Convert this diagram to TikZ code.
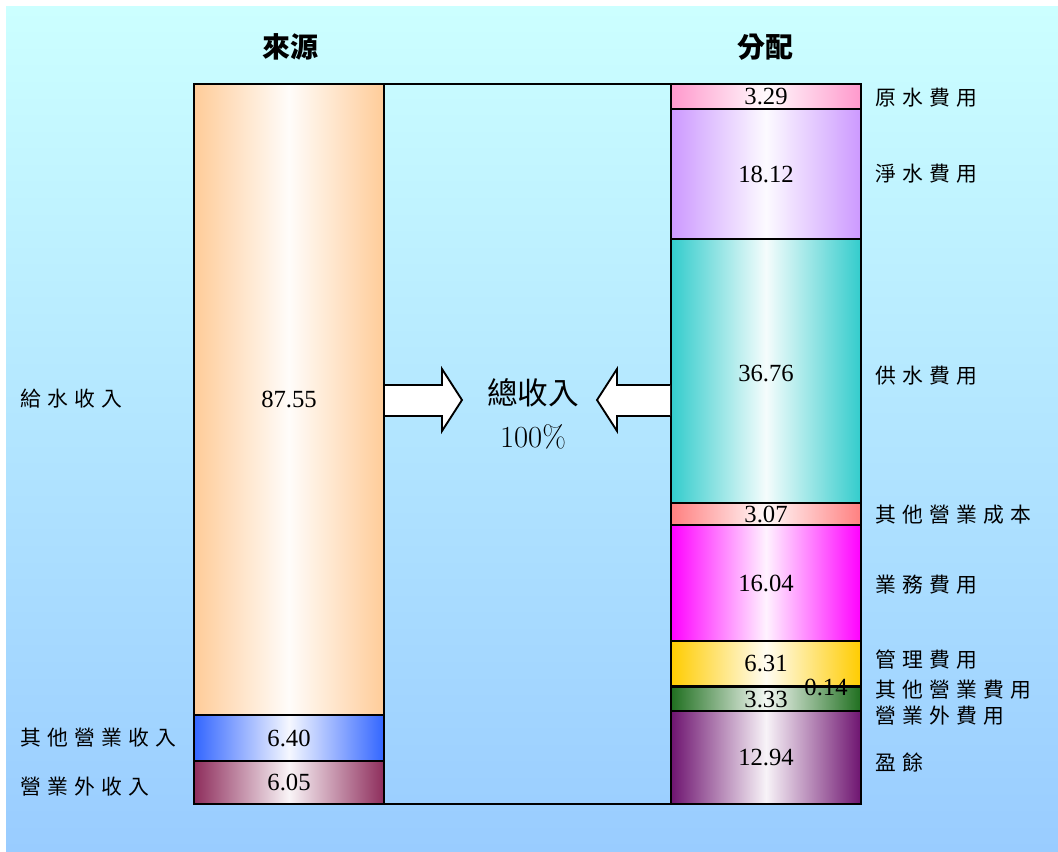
\documentclass[tikz,border=0pt]{standalone}
\usepackage{fontspec}
\setmainfont{Liberation Serif}
\newfontfamily\cjk{Noto Sans CJK TC}
\newfontfamily\cjksp[LetterSpace=30]{Noto Sans CJK TC}
\newfontfamily\lmfont{Latin Modern Roman}
\definecolor{bgtop}{HTML}{CCFFFF}
\definecolor{bgbot}{HTML}{99CCFF}
\definecolor{cOrange}{HTML}{FFCC99}
\definecolor{cBlue}{HTML}{3366FF}
\definecolor{cMaroon}{HTML}{8E2D5C}
\definecolor{cPink}{HTML}{FF99CC}
\definecolor{cLilac}{HTML}{CC99FF}
\definecolor{cTeal}{HTML}{33CCCC}
\definecolor{cSalmon}{HTML}{FF8080}
\definecolor{cMagenta}{HTML}{FF00FF}
\definecolor{cGold}{HTML}{FFCC00}
\definecolor{cGrey}{HTML}{808080}
\definecolor{cGreen}{HTML}{1F6F1F}
\definecolor{cPurple}{HTML}{6E1470}
\tikzset{
  x=0.75pt, y=-0.75pt,
  seg/.style n args={2}{draw=black, line width=1.4pt, inner sep=0pt, outer sep=0pt,
    anchor=north west, minimum width=142.5pt, minimum height=#2*0.75pt,
    left color=#1, right color=#1, middle color=#1!5!white,
    font=\fontsize{18.5}{18.5}\selectfont},
  lab/.style={anchor=west, inner sep=0pt, font=\cjksp\fontsize{15.6}{15.6}\selectfont},
  head/.style={inner sep=0pt, font=\cjk\bfseries\fontsize{21}{21}\selectfont},
  num/.style={inner sep=0pt, font=\fontsize{18.5}{18.5}\selectfont},
  blockarrow/.style={fill=white},
  blockedge/.style={draw=black, line width=1.4pt, line join=miter}
}
\begin{document}
\begin{tikzpicture}
\useasboundingbox (0,0) rectangle (1058,852);
\fill[white] (0,0) rectangle (1058,852);
\shade[top color=bgtop, bottom color=bgbot] (6,7) rectangle (1058,852);

% headings
\node[head] (hsrc) at (290,47) {來源};
\node[head] (hdst) at (765,47) {分配};

% connector frame
\draw[line width=0.8pt] (384,84) rectangle (671,804);

% left bar
\node[seg={cOrange}{631}] (s1) at (194,84) {87.55};
\node[seg={cBlue}{46}]    (s2) at (194,715) {6.40};
\node[seg={cMaroon}{43}]  (s3) at (194,761) {6.05};

% right bar
\node[seg={cPink}{25}]     (d1) at (671,84) {\raisebox{-2pt}{3.29}};
\node[seg={cLilac}{130}]   (d2) at (671,109) {18.12};
\node[seg={cTeal}{264}]    (d3) at (671,239) {};
\node[seg={cSalmon}{22}]   (d4) at (671,503) {3.07};
\node[seg={cMagenta}{116}] (d5) at (671,525) {16.04};
\node[seg={cGold}{45}]     (d6) at (671,641) {\raisebox{-3pt}{6.31}};
\node[seg={cGrey}{1}]      (d7) at (671,686) {};
\node[seg={cGreen}{24}]    (d8) at (671,687) {};
\node[seg={cPurple}{93}]   (d9) at (671,711) {};
\node[num] (n3) at (766,374) {36.76};
\node[num] (n8) at (766,700) {3.33};
\node[num] (n9) at (766,758) {12.94};
\node[num] (n7) at (826,687) {0.14};

% left labels
\node[lab] (l1) at (20,399) {給水收入};
\node[lab] (l2) at (20,738) {其他營業收入};
\node[lab] (l3) at (20,787) {營業外收入};

% right labels
\node[lab] (r1) at (875,98)  {原水費用};
\node[lab] (r2) at (875,174) {淨水費用};
\node[lab] (r3) at (875,376) {供水費用};
\node[lab] (r4) at (875,515) {其他營業成本};
\node[lab] (r5) at (875,585) {業務費用};
\node[lab] (r6) at (875,660) {管理費用};
\node[lab] (r7) at (875,690) {其他營業費用};
\node[lab] (r8) at (875,716) {營業外費用};
\node[lab] (r9) at (875,763) {盈餘};

% centre text
\node[inner sep=0pt, font=\cjk\fontsize{23}{23}\selectfont, text=black] (tot) at (533,393) {總收入};
\node[inner sep=0pt, font=\lmfont\fontsize{23}{23}\selectfont, text=black] (pct) at (533,437) {100\%};

% block arrows
\fill[blockarrow] (385,385) -- (442,385) -- (442,369) -- (462,400) -- (442,431) -- (442,416) -- (385,416) -- cycle;
\draw[blockedge] (385,385) -- (442,385) -- (442,369) -- (462,400) -- (442,431) -- (442,416) -- (385,416);
\fill[blockarrow] (670,385) -- (617,385) -- (617,369) -- (597,400) -- (617,431) -- (617,416) -- (670,416) -- cycle;
\draw[blockedge] (670,385) -- (617,385) -- (617,369) -- (597,400) -- (617,431) -- (617,416) -- (670,416);
\end{tikzpicture}
\end{document}
